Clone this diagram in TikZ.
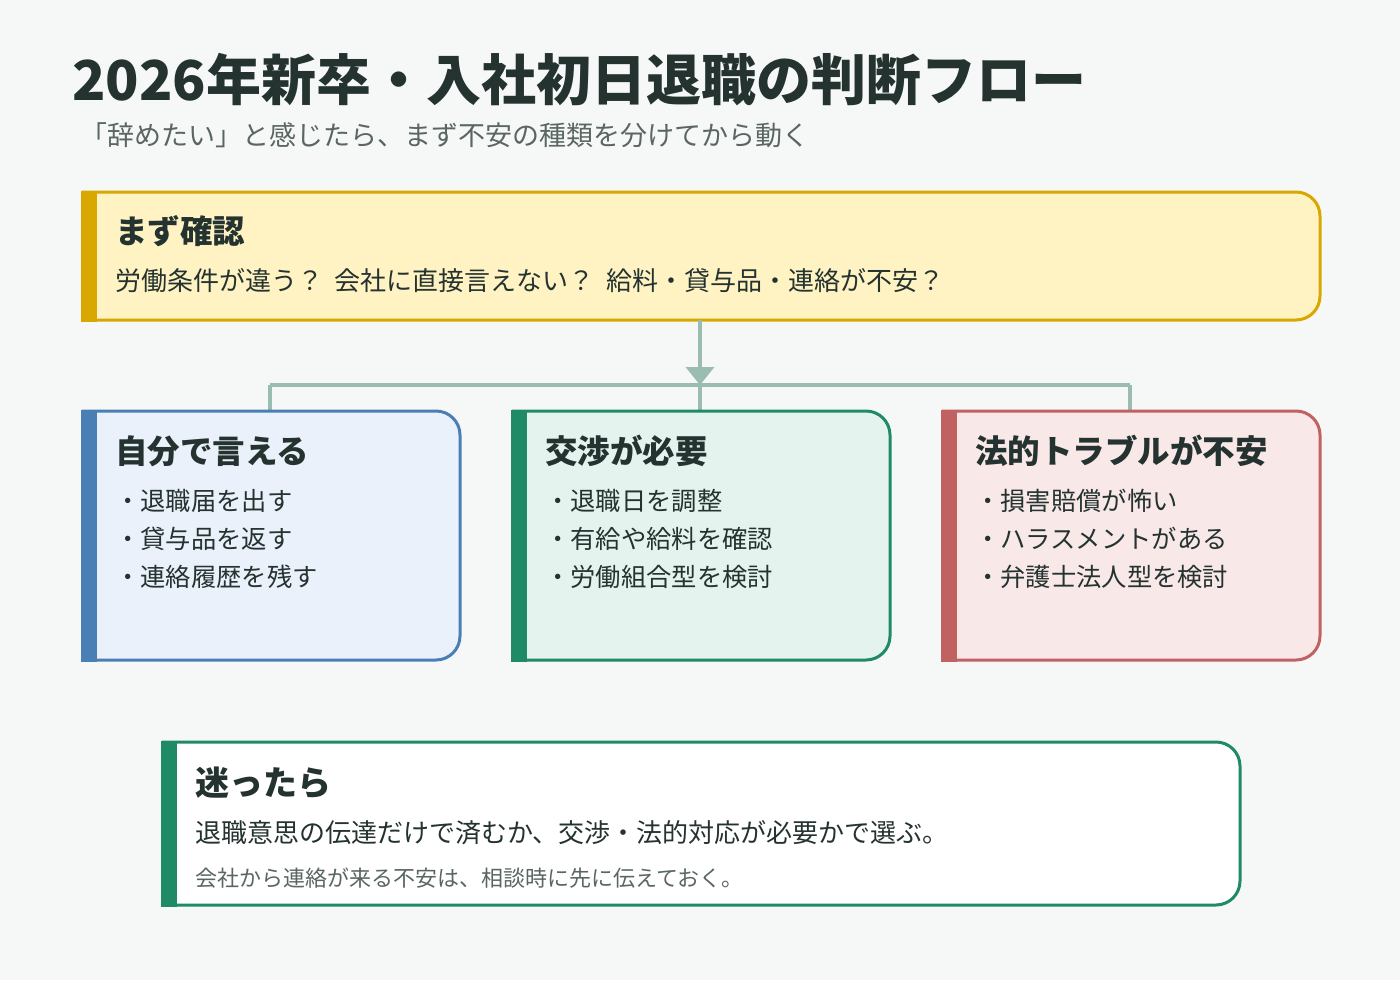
\documentclass[tikz,border=0pt]{standalone}
\usepackage{fontspec}
\setmainfont{Noto Sans CJK JP}
\usetikzlibrary{arrows.meta}
\definecolor{bgc}{HTML}{F6F8F7}
\definecolor{ink}{HTML}{243230}
\definecolor{sub}{HTML}{5A6663}
\definecolor{link}{HTML}{9BBCB0}
\definecolor{goldb}{HTML}{D8A800}\definecolor{goldf}{HTML}{FFF3C4}
\definecolor{blueb}{HTML}{4A7FB5}\definecolor{bluef}{HTML}{EAF1FB}
\definecolor{greenb}{HTML}{1F8A66}\definecolor{greenf}{HTML}{E5F3EE}
\definecolor{redb}{HTML}{C06262}\definecolor{redf}{HTML}{F8E8E8}
\tikzset{
  card/.style={line width=3pt},
  head/.style={anchor=base west,font=\fontsize{32.5}{32}\selectfont\bfseries,text=ink,inner sep=0},
  item/.style={anchor=base west,font=\fontsize{25.3}{25}\selectfont,text=ink,inner sep=0},
  flow/.style={draw=link,line width=4pt}
}
% card: x0,y0,x1,y1,border,fill
\newcommand\card[6]{%
  \fill[#6] (#1,#2) [rounded corners=24pt] -- (#3,#2) -- (#3,#4) -- (#1,#4) [sharp corners] -- cycle;
  \draw[card,#5] (#1,#2) [rounded corners=24pt] -- (#3,#2) -- (#3,#4) [sharp corners] -- (#1,#4);
  \fill[#5] (#1-1.5,#2-1.5) rectangle (#1+15,#4+1.5);}
\begin{document}
\begin{tikzpicture}[x=1pt,y=-1pt]
\fill[bgc] (0,0) rectangle (1400,980);
\useasboundingbox (0,0) rectangle (1400,980);
% Title
\node[anchor=base west,inner sep=0,text=ink,font=\fontsize{55}{55}\selectfont\bfseries] (title) at (72,100) {2026年新卒・入社初日退職の判断フロー};
\node[anchor=base west,inner sep=0,text=sub,font=\fontsize{27}{27}\selectfont] (subtitle) at (80,145) {「辞めたい」と感じたら、まず不安の種類を分けてから動く};
% Check box
\card{82}{192}{1320}{320}{goldb}{goldf}
\node[head] (check) at (115,243) {まず確認};
\node[item,font=\fontsize{26}{26}\selectfont] (checktxt) at (115,290) {労働条件が違う？\ \ 会社に直接言えない？\ \ 給料・貸与品・連絡が不安？};
% Connectors
\coordinate (top) at (700,320);
\coordinate (hub) at (700,385);
\coordinate (hl) at (270,385);
\coordinate (hr) at (1130,385);
\coordinate (bl) at (270,411);
\coordinate (bm) at (700,411);
\coordinate (br) at (1130,411);
\draw[flow] (hl) -- (hr);
\draw[flow] (hl) -- (bl);
\draw[flow] (hr) -- (br);
\draw[flow] (hub) -- (bm);
\draw[flow,-{Triangle[length=18pt,width=28pt]},fill=link] (top) -- (hub);
% Three cards
\card{82}{411}{460}{660}{blueb}{bluef}
\card{512}{411}{890}{660}{greenb}{greenf}
\card{942}{411}{1320}{660}{redb}{redf}
\node[head] (self) at (115,463) {自分で言える};
\node[item] (s1) at (115,510) {・退職届を出す};
\node[item] (s2) at (115,548) {・貸与品を返す};
\node[item] (s3) at (115,586) {・連絡履歴を残す};
\node[head] (nego) at (545,463) {交渉が必要};
\node[item] (n1) at (545,510) {・退職日を調整};
\node[item] (n2) at (545,548) {・有給や給料を確認};
\node[item] (n3) at (545,586) {・労働組合型を検討};
\node[head] (legal) at (975,463) {法的トラブルが不安};
\node[item] (l1) at (975,510) {・損害賠償が怖い};
\node[item] (l2) at (975,548) {・ハラスメントがある};
\node[item] (l3) at (975,586) {・弁護士法人型を検討};
% Bottom card
\card{162}{742}{1240}{905}{greenb}{white}
\node[head,font=\fontsize{34}{34}\selectfont\bfseries] (doubt) at (195,795) {迷ったら};
\node[item,font=\fontsize{26}{26}\selectfont] (d1) at (195,842) {退職意思の伝達だけで済むか、交渉・法的対応が必要かで選ぶ。};
\node[item,text=sub,font=\fontsize{22}{22}\selectfont] (d2) at (195,886) {会社から連絡が来る不安は、相談時に先に伝えておく。};
\end{tikzpicture}
\end{document}
